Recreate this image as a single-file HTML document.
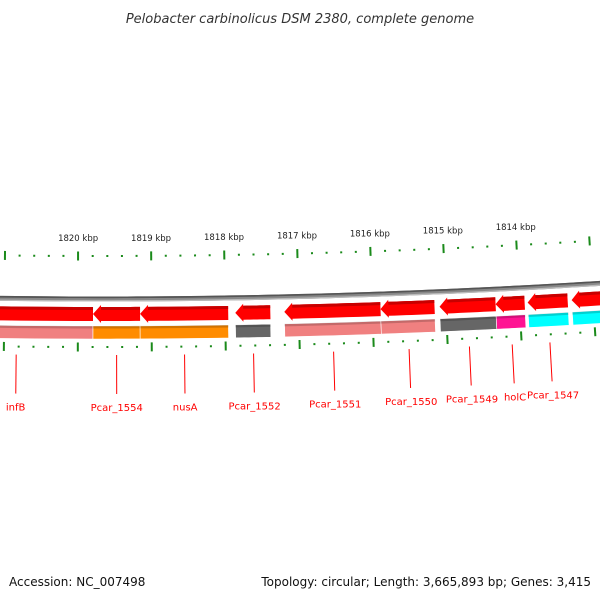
<!DOCTYPE html>
<html><head><meta charset="utf-8">
<style>
html,body{margin:0;padding:0;background:#fff;}
svg{display:block;font-family:"DejaVu Sans","Liberation Sans",sans-serif;}
</style></head>
<body>
<svg id="chart" width="600" height="600" viewBox="0 0 600 600" xmlns="http://www.w3.org/2000/svg">
<text x="300" y="23" text-anchor="middle" font-size="13" font-style="italic" fill="#333">Pelobacter carbinolicus DSM 2380, complete genome</text>
<g id="ticks"></g>
<g id="backbone"></g>
<g id="genes"></g>
<g id="labels"></g>
<text x="9" y="586" font-size="12" fill="#111">Accession: NC_007498</text>
<text x="591" y="586" text-anchor="end" font-size="12" fill="#111">Topology: circular; Length: 3,665,893 bp; Genes: 3,415</text>
</svg>
<script>
const geneNames = ["infB","Pcar_1554","nusA","Pcar_1552","Pcar_1551","Pcar_1550","Pcar_1549","holC","Pcar_1547",""];
const geneStarts = [1821870,1819795,1819156,1817863,1817197,1815890,1815088,1814326,1813890,1813292];
const geneEnds = [1819795,1819156,1817959,1817387,1815890,1815156,1814326,1813931,1813346,1812400];
const geneColors = ["#f08080","#ff8c00","#ff8c00","#666666","#f08080","#f08080","#666666","#ff1493","#00ffff","#00ffff"];
const tickKbp = [1821,1820,1819,1818,1817,1816,1815,1814,1813];
const tickLabels = ["1821 kbp","1820 kbp","1819 kbp","1818 kbp","1817 kbp","1816 kbp","1815 kbp","1814 kbp","1813 kbp"];

const NS="http://www.w3.org/2000/svg";
const R0=8000, CX=100, CY=299-8000, BP0=1819700, PXBP=0.0735;
function ang(bp){return (BP0-bp)*PXBP/R0;}
function P(bp,r){const t=ang(bp);return [CX+r*Math.sin(t), CY+r*Math.cos(t)];}
function pts(a){return a.map(p=>p[0].toFixed(2)+","+p[1].toFixed(2)).join(" ");}
function mk(tag,attrs,parent){const e=document.createElementNS(NS,tag);for(const k in attrs)e.setAttribute(k,attrs[k]);parent.appendChild(e);return e;}
function arcPts(b1,b2,r,n){const a=[];for(let i=0;i<=n;i++)a.push(P(b1+(b2-b1)*i/n,r));return a;}

// backbone
const bbg=document.getElementById('backbone');
const bbPoly=arcPts(1822500,1811500,R0-2.5,60).concat(arcPts(1811500,1822500,R0+2.5,60));
const bbEl=mk('polygon',{points:pts(bbPoly),fill:"#888"},bbg);


const bbTop=arcPts(1822500,1811500,R0-2.5,60).concat(arcPts(1811500,1822500,R0-0.8,60));
mk('polygon',{points:pts(bbTop),fill:"#555"},bbg);
const bbBot=arcPts(1822500,1811500,R0+1.2,60).concat(arcPts(1811500,1822500,R0+2.5,60));
mk('polygon',{points:pts(bbBot),fill:"#bbb"},bbg);

// ticks
const tg=document.getElementById('ticks');
for(let bp=1822000;bp>=1811600;bp-=200){
  const major = bp%1000===0;
  [[7957,1],[8048,-1]].forEach(([r,dir])=>{
    let a,b;
    if(major){a=P(bp,r-4.5);b=P(bp,r+4.5);}else{a=P(bp,r-1);b=P(bp,r+1);}
    const t=mk('line',{x1:a[0],y1:a[1],x2:b[0],y2:b[1],stroke:"#1a8a1a","stroke-width":2},tg);
    
    
  });
}
tickKbp.forEach((k,i)=>{
  const p=P(k*1000,7942);
  if(p[0]<20||p[0]>560)return;
  const t=mk('text',{x:p[0],y:p[1],"text-anchor":"middle","font-size":"8.5",fill:"#222"},tg);
  t.textContent=tickLabels[i];
  
  
});

// genes
const gg=document.getElementById('genes');
const lg=document.getElementById('labels');
geneNames.forEach((nm,i)=>{
  const s=geneStarts[i], e=geneEnds[i];
  const headBp=8/PXBP;
  const rT=8008, rB=8022, rM=8015;
  const body=arcPts(s-headBp,e,rT,8).concat(arcPts(e,s-headBp,rB,8));
  const poly=[P(s,rM),P(s-headBp,rT-2)].concat(body).concat([P(s-headBp,rB+2)]);
  const g=mk('g',{},gg);
  
  
  mk('polygon',{points:pts(poly),fill:"#ff0000"},g);
  const strip=arcPts(s-headBp,e,rT,8).concat(arcPts(e,s-headBp,rT+3,8));
  mk('polygon',{points:pts(strip),fill:"#c80000"},g);
  const lb=arcPts(s,e,8027,8).concat(arcPts(e,s,8040,8));
  const band=mk('polygon',{points:pts(lb),fill:geneColors[i],stroke:"#fff","stroke-width":"0.6"},g);
  
  
  const lt=arcPts(s,e,8027,8).concat(arcPts(e,s,8029.5,8));
  mk('polygon',{points:pts(lt),fill:"#000","fill-opacity":"0.18"},g);
  if(nm){
    const m=(s+e)/2;
    const a=P(m,8056), b=P(m,8095), t=P(m,8112);
    const ln=mk('line',{x1:a[0],y1:a[1],x2:b[0],y2:b[1],stroke:"#ff0000","stroke-width":"1"},lg);
    
    
    const tx=mk('text',{x:t[0],y:t[1],"text-anchor":"middle","font-size":"10",fill:"#ff0000"},lg);
    tx.textContent=nm;
    
    
  }
});
</script>
</body></html>
